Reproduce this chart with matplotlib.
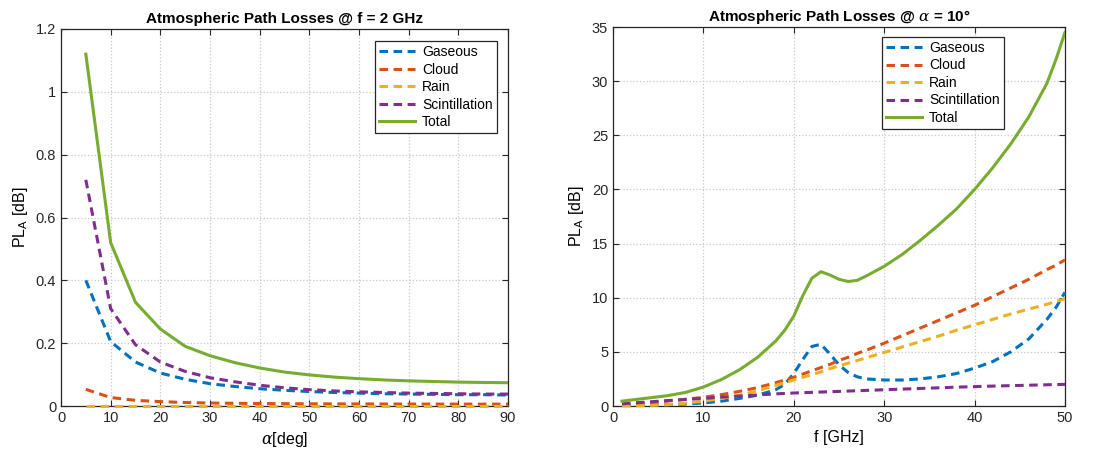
import matplotlib.pyplot as plt
import numpy as np

plt.rcParams['font.family'] = ['Liberation Sans', 'DejaVu Sans']
plt.rcParams['mathtext.fontset'] = 'custom'
plt.rcParams['mathtext.rm'] = 'Liberation Sans'
plt.rcParams['mathtext.it'] = 'DejaVu Serif:italic'

# left panel: losses vs elevation angle, f = 2 GHz
alpha = [5, 10, 15, 20, 25, 30, 35, 40, 45, 50, 55, 60, 65, 70, 75, 80, 85, 90]
gas_a = [0.40, 0.205, 0.14, 0.105, 0.085, 0.071, 0.062, 0.055, 0.050, 0.046, 0.043,
         0.041, 0.039, 0.038, 0.037, 0.036, 0.036, 0.035]
cloud_a = [0.053, 0.027, 0.018, 0.014, 0.011, 0.0095, 0.0085, 0.008, 0.0075, 0.007,
           0.0068, 0.0066, 0.0064, 0.0062, 0.0061, 0.006, 0.006, 0.006]
rain_a = [0.001, 0.001, 0.001, 0.001, 0.001, 0.001, 0.001, 0.001, 0.001, 0.001,
          0.001, 0.001, 0.001, 0.001, 0.001, 0.001, 0.001, 0.001]
scint_a = [0.72, 0.31, 0.195, 0.14, 0.11, 0.09, 0.077, 0.066, 0.058, 0.052, 0.048,
           0.045, 0.043, 0.041, 0.040, 0.039, 0.038, 0.038]
total_a = [1.12, 0.52, 0.33, 0.245, 0.19, 0.16, 0.138, 0.121, 0.108, 0.099, 0.092,
           0.087, 0.083, 0.080, 0.078, 0.076, 0.075, 0.074]

# right panel: losses vs frequency, alpha = 10 deg
freq = [1, 2, 4, 6, 8, 10, 12, 14, 16, 18, 19, 20, 21, 22, 23, 24, 25, 26, 27, 28,
        30, 32, 34, 36, 38, 40, 42, 44, 46, 48, 49, 50]
gas_f = [0.05, 0.05, 0.08, 0.12, 0.18, 0.28, 0.45, 0.7, 1.0, 1.5, 2.0, 3.0, 4.3, 5.5,
         5.7, 4.8, 3.8, 3.1, 2.7, 2.5, 2.4, 2.4, 2.5, 2.7, 3.0, 3.5, 4.1, 5.0, 6.2,
         8.0, 9.1, 10.5]
cloud_f = [0.08, 0.15, 0.3, 0.45, 0.62, 0.8, 1.05, 1.35, 1.7, 2.15, 2.4, 2.65, 2.95,
           3.25, 3.55, 3.85, 4.2, 4.5, 4.85, 5.15, 5.8, 6.5, 7.2, 7.9, 8.6, 9.3,
           10.1, 10.9, 11.7, 12.6, 13.0, 13.5]
rain_f = [0.0, 0.01, 0.05, 0.12, 0.25, 0.45, 0.7, 1.0, 1.4, 1.9, 2.15, 2.4, 2.65, 2.9,
          3.15, 3.45, 3.7, 3.95, 4.2, 4.45, 4.95, 5.45, 5.95, 6.45, 7.0, 7.5, 8.0,
          8.5, 8.95, 9.4, 9.65, 9.9]
scint_f = [0.2, 0.27, 0.38, 0.5, 0.6, 0.7, 0.82, 0.92, 1.02, 1.12, 1.16, 1.2, 1.23,
           1.26, 1.29, 1.32, 1.35, 1.38, 1.41, 1.44, 1.5, 1.56, 1.62, 1.68, 1.74,
           1.79, 1.84, 1.88, 1.92, 1.96, 1.98, 2.0]
total_f = [0.45, 0.55, 0.75, 0.95, 1.25, 1.75, 2.45, 3.35, 4.5, 6.0, 7.0, 8.3, 10.2,
           11.8, 12.4, 12.1, 11.7, 11.5, 11.6, 12.0, 12.9, 14.0, 15.3, 16.7, 18.2,
           20.0, 22.0, 24.2, 26.7, 29.8, 32.0, 34.5]

names = ['Gaseous', 'Cloud', 'Rain', 'Scintillation', 'Total']
colors = ['#0072BD', '#D95319', '#EDB120', '#7E2F8E', '#77AC30']

fig = plt.figure(figsize=(11.13, 4.58), dpi=100)
ax1 = fig.add_axes([61 / 1113, 1 - 406 / 458, 447 / 1113, 377 / 458])
ax2 = fig.add_axes([613 / 1113, 1 - 406 / 458, 452 / 1113, 379 / 458])


def draw(ax, x, series, anchor):
    for s, name, c in zip(series, names, colors):
        if name == 'Total':
            ax.plot(x, s, '-', color=c, lw=2.2, label=name, zorder=3)
        else:
            ax.plot(x, s, '--', color=c, lw=2.2, dashes=(2.8, 1.8), label=name,
                    clip_on=False, zorder=3)
    ax.grid(True, linestyle=':', color='#c8c8c8', lw=0.9)
    ax.set_axisbelow(True)
    ax.tick_params(direction='in', top=True, right=True, labelsize=10.5, length=4,
                   colors='#262626')
    leg = ax.legend(loc='upper right', bbox_to_anchor=anchor, fontsize=10,
                    fancybox=False, framealpha=1, edgecolor='#262626',
                    handlelength=2.6, borderpad=0.3, labelspacing=0.25,
                    handletextpad=0.5, borderaxespad=0)
    leg.get_frame().set_linewidth(0.9)
    leg.set_zorder(5)


draw(ax1, alpha, [gas_a, cloud_a, rain_a, scint_a, total_a], (0.975, 0.968))
ax1.set_xlim(0, 90)
ax1.set_ylim(0, 1.2)
ax1.set_xticks(np.arange(0, 91, 10))
ax1.set_yticks([0, 0.2, 0.4, 0.6, 0.8, 1, 1.2])
ax1.set_yticklabels(['0', '0.2', '0.4', '0.6', '0.8', '1', '1.2'])
ax1.set_title('Atmospheric Path Losses @ f = 2 GHz', fontsize=11, fontweight='bold', pad=4)
ax1.set_xlabel(r'$\alpha$[deg]', fontsize=11.5)
ax1.set_ylabel(r'PL$_\mathregular{A}$ [dB]', fontsize=11.5)

draw(ax2, freq, [gas_f, cloud_f, rain_f, scint_f, total_f], (0.865, 0.974))
ax2.set_xlim(0, 50)
ax2.set_ylim(0, 35)
ax2.set_xticks(np.arange(0, 51, 10))
ax2.set_yticks(np.arange(0, 36, 5))
ax2.set_title(r'Atmospheric Path Losses @ $\alpha$ = 10°', fontsize=11, fontweight='bold', pad=4)
ax2.set_xlabel('f [GHz]', fontsize=11.5)
ax2.set_ylabel(r'PL$_\mathregular{A}$ [dB]', fontsize=11.5)

for ax in (ax1, ax2):
    for sp in ax.spines.values():
        sp.set_color('#262626')
        sp.set_linewidth(0.9)

fig.savefig('out.png', dpi=100)
